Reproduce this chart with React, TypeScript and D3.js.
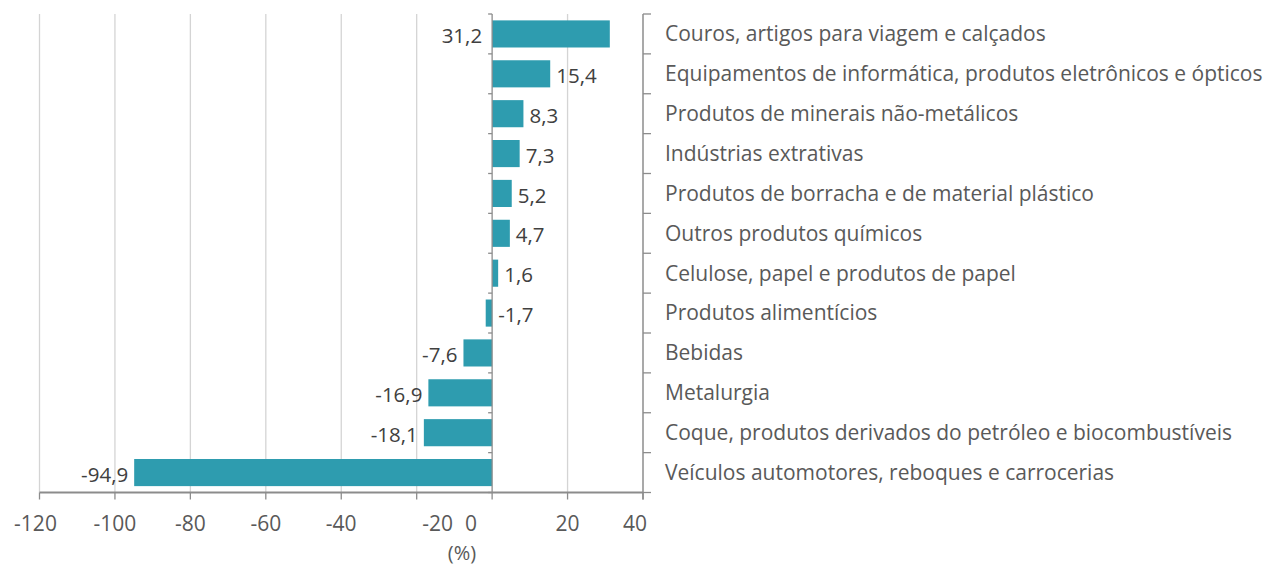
import { useRef, useEffect } from 'react';
import * as d3 from 'd3';

const CATEGORIES = [
  'Couros, artigos para viagem e calçados',
  'Equipamentos de informática, produtos eletrônicos e ópticos',
  'Produtos de minerais não-metálicos',
  'Indústrias extrativas',
  'Produtos de borracha e de material plástico',
  'Outros produtos químicos',
  'Celulose, papel e produtos de papel',
  'Produtos alimentícios',
  'Bebidas',
  'Metalurgia',
  'Coque, produtos derivados do petróleo e biocombustíveis',
  'Veículos automotores, reboques e carrocerias',
];
const VALUES = [31.2, 15.4, 8.3, 7.3, 5.2, 4.7, 1.6, -1.7, -7.6, -16.9, -18.1, -94.9];
const X_TICKS = [-120, -100, -80, -60, -40, -20, 0, 20, 40];
// small nudges of tick labels as seen in the original
const TICK_NUDGE: Record<string, number> = { '-120': -4, '-20': 21, '0': -21, '40': -8 };

const BAR = '#2E9CAF';
const AXIS = '#8c8c8c';
const GRID = '#d4d4d4';
const TEXT = '#595959';
const FONT = '"Open Sans", Lato, sans-serif';

const fmt = (v: number) => v.toFixed(1).replace('.', ',');

export default function App() {
  const svgRef = useRef<SVGSVGElement>(null);

  useEffect(() => {
    const width = 1272, height = 565;
    const margin = { top: 14, left: 39.5, right: 629, bottom: 72.5 };
    const svg = d3.select(svgRef.current).attr('width', width).attr('height', height);
    svg.selectAll('*').remove();

    const x = d3.scaleLinear().domain([-120, 40]).range([margin.left, width - margin.right]);
    const y = d3.scaleBand().domain(CATEGORIES).range([margin.top, height - margin.bottom]).paddingInner(0.32).paddingOuter(0.16);
    const rows = d3.scaleBand().domain(CATEGORIES).range([margin.top, height - margin.bottom]);
    const yBottom = height - margin.bottom;

    // gridlines
    svg.append('g').selectAll('line').data(X_TICKS.filter(t => t !== 0 && t !== 40)).join('line')
      .attr('x1', d => x(d)).attr('x2', d => x(d))
      .attr('y1', margin.top).attr('y2', yBottom)
      .attr('stroke', GRID).attr('stroke-width', 1.3);

    // bars
    svg.append('g').selectAll('rect').data(VALUES).join('rect')
      .attr('x', d => x(Math.min(0, d)))
      .attr('width', d => Math.abs(x(d) - x(0)))
      .attr('y', (_, i) => y(CATEGORIES[i])!)
      .attr('height', y.bandwidth())
      .attr('fill', BAR);

    // bottom axis
    const xa = svg.append('g').attr('transform', `translate(0,${yBottom})`);
    xa.append('line').attr('x1', x(-120)).attr('x2', x(40)).attr('stroke', AXIS).attr('stroke-width', 2);
    xa.selectAll('line.t').data(X_TICKS).join('line').attr('class', 't')
      .attr('x1', d => x(d)).attr('x2', d => x(d)).attr('y1', 0).attr('y2', 7)
      .attr('stroke', AXIS).attr('stroke-width', 1.3);
    xa.selectAll('text').data(X_TICKS).join('text')
      .attr('x', d => x(d) + (TICK_NUDGE[String(d)] || 0)).attr('y', 38)
      .attr('text-anchor', 'middle').attr('fill', TEXT)
      .attr('font-family', FONT).attr('font-size', 21)
      .text(d => String(d));
    svg.append('text').attr('x', 462).attr('y', 560)
      .attr('text-anchor', 'middle').attr('fill', TEXT)
      .attr('font-family', FONT).attr('font-size', 20).text('(%)');

    // zero axis with left ticks
    const bounds = CATEGORIES.map(c => rows(c)!).concat([yBottom]);
    svg.append('line').attr('x1', x(0)).attr('x2', x(0)).attr('y1', margin.top).attr('y2', yBottom)
      .attr('stroke', AXIS).attr('stroke-width', 1.3);
    svg.append('g').selectAll('line').data(bounds).join('line')
      .attr('x1', x(0) - 4).attr('x2', x(0)).attr('y1', d => d).attr('y2', d => d)
      .attr('stroke', AXIS).attr('stroke-width', 1.3);

    // right category axis
    svg.append('line').attr('x1', x(40)).attr('x2', x(40)).attr('y1', margin.top).attr('y2', yBottom + 7)
      .attr('stroke', AXIS).attr('stroke-width', 1.5);
    svg.append('g').selectAll('line').data(bounds).join('line')
      .attr('x1', x(40)).attr('x2', x(40) + 8).attr('y1', d => d).attr('y2', d => d)
      .attr('stroke', AXIS).attr('stroke-width', 1.3);
    svg.append('g').selectAll('text').data(CATEGORIES).join('text')
      .attr('x', x(40) + 22).attr('y', d => rows(d)! + rows.bandwidth() / 2)
      .attr('dy', '0.35em').attr('fill', TEXT)
      .attr('font-family', FONT).attr('font-size', 21)
      .text(d => d);

    // value labels (placement follows the original: 31,2 sits left of zero, -1,7 right of zero)
    svg.append('g').selectAll('text').data(VALUES).join('text')
      .attr('x', (d, i) => {
        if (i === 0) return x(0) - 10;
        if (d < 0 && d > -5) return x(0) + 6;
        return d >= 0 ? x(d) + 6 : x(d) - 6;
      })
      .attr('text-anchor', (d, i) => (i === 0 || (d < 0 && d <= -5) ? 'end' : 'start'))
      .attr('y', (_, i) => rows(CATEGORIES[i])! + rows.bandwidth() / 2 + 2)
      .attr('dy', '0.35em').attr('fill', '#404040')
      .attr('font-family', FONT).attr('font-size', 20.5)
      .text(d => fmt(d));
  }, []);

  return (
    <div style={{ position: 'absolute', left: 0, top: 0, background: '#fff' }}>
      <svg ref={svgRef} style={{ display: 'block' }} />
    </div>
  );
}
